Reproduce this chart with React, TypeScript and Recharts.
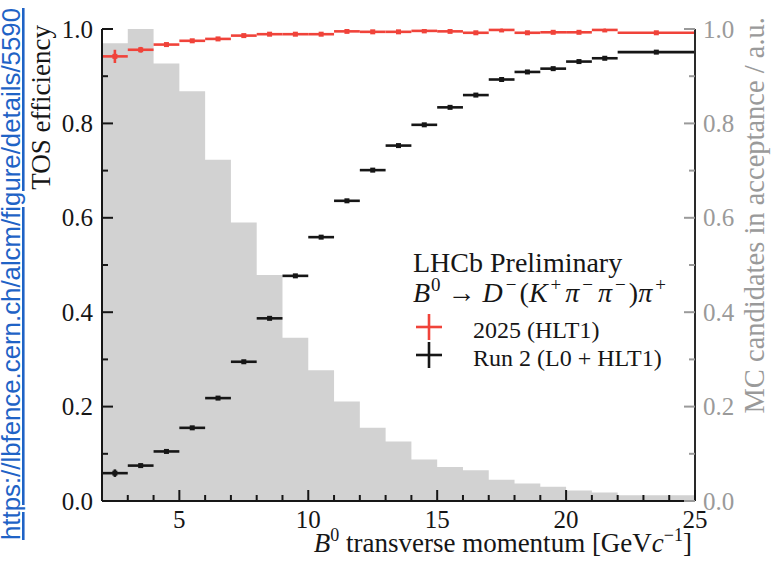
import React from 'react';
import { ComposedChart, Area, Scatter, ErrorBar, XAxis, YAxis, Legend, Label } from 'recharts';

const SERIF = '"Liberation Serif", "DejaVu Serif", serif';
const SANS = '"Liberation Sans", Arial, sans-serif';

// Bin edges of the B0 pT binning [GeV/c]
const binEdges = [2, 3, 4, 5, 6, 7, 8, 9, 10, 11, 12, 13, 14, 15, 16, 17, 18, 19, 20, 21, 22, 25];
// MC candidates in acceptance (a.u.), one per bin
const mcCandidates = [0.970, 1.000, 0.927, 0.868, 0.723, 0.590, 0.479, 0.346, 0.277, 0.211, 0.155, 0.126, 0.088, 0.072, 0.065, 0.045, 0.037, 0.030, 0.022, 0.018, 0.012];
// 2025 (HLT1) TOS efficiency
const eff2025 = [0.942, 0.956, 0.967, 0.975, 0.979, 0.986, 0.989, 0.989, 0.989, 0.995, 0.994, 0.994, 0.996, 0.995, 0.992, 0.998, 0.992, 0.993, 0.993, 0.998, 0.992];
const eff2025Err = [0.014, 0.006, 0.004, 0.003, 0.003, 0.003, 0.003, 0.003, 0.003, 0.003, 0.003, 0.003, 0.003, 0.003, 0.003, 0.003, 0.003, 0.003, 0.003, 0.003, 0.003];
// Run 2 (L0 + HLT1) TOS efficiency
const effRun2 = [0.059, 0.075, 0.105, 0.155, 0.218, 0.295, 0.387, 0.477, 0.559, 0.636, 0.701, 0.753, 0.797, 0.834, 0.860, 0.893, 0.909, 0.916, 0.931, 0.938, 0.951];
const effRun2Err = [0.008, 0.004, 0.003, 0.003, 0.003, 0.003, 0.003, 0.003, 0.003, 0.003, 0.003, 0.003, 0.003, 0.003, 0.003, 0.003, 0.003, 0.003, 0.003, 0.003, 0.003];

const xTicks = [3, 4, 5, 6, 7, 8, 9, 10, 11, 12, 13, 14, 15, 16, 17, 18, 19, 20, 21, 22, 23, 24, 25];
const xTickLabels = [5, 10, 15, 20, 25];
const yTicks = [0, 0.1, 0.2, 0.3, 0.4, 0.5, 0.6, 0.7, 0.8, 0.9, 1.0];
const yTickLabels = [0, 0.2, 0.4, 0.6, 0.8, 1.0];

const RED = '#f0433a';
const BLACK = '#161616';
const GREY_FILL = '#d2d2d2';
const GREY_TEXT = '#9a9a9a';

const histData = binEdges.map((e, i) => ({ x: e, mc: mcCandidates[Math.min(i, mcCandidates.length - 1)] }));
const makePoints = (vals: number[], errs: number[]) =>
  vals.map((v, i) => ({
    x: (binEdges[i] + binEdges[i + 1]) / 2,
    y: v,
    ex: (binEdges[i + 1] - binEdges[i]) / 2,
    ey: errs[i],
  }));
const pts2025 = makePoints(eff2025, eff2025Err);
const ptsRun2 = makePoints(effRun2, effRun2Err);

const isLabel = (v: number, list: number[]) => list.some((l) => Math.abs(l - v) < 1e-6);

const XTickBottom = (props: any) => {
  const { x, y, payload } = props;
  const v = payload.value;
  const major = isLabel(v, xTickLabels);
  return (
    <g>
      <line x1={x} x2={x} y1={y} y2={y - (major ? 11 : 6)} stroke={BLACK} strokeWidth={2} />
      {major && (
        <text x={x} y={y + 27} textAnchor="middle" fontSize={25} fontFamily={SERIF} fill={BLACK}>
          {v}
        </text>
      )}
    </g>
  );
};

const XTickTop = (props: any) => {
  const { x, y, payload } = props;
  const major = isLabel(payload.value, xTickLabels);
  return <line x1={x} x2={x} y1={y} y2={y + (major ? 11 : 6)} stroke={BLACK} strokeWidth={2} />;
};

const YTickLeft = (props: any) => {
  const { x, y, payload } = props;
  const v = payload.value;
  const major = isLabel(v, yTickLabels);
  return (
    <g>
      <line x1={x} x2={x + (major ? 11 : 6)} y1={y} y2={y} stroke={BLACK} strokeWidth={2} />
      {major && (
        <text x={x - 9} y={y + 8.5} textAnchor="end" fontSize={25} fontFamily={SERIF} fill={BLACK}>
          {v.toFixed(1)}
        </text>
      )}
    </g>
  );
};

const YTickRight = (props: any) => {
  const { x, y, payload } = props;
  const v = payload.value;
  const major = isLabel(v, yTickLabels);
  return (
    <g>
      <line x1={x} x2={x - (major ? 11 : 6)} y1={y} y2={y} stroke={GREY_TEXT} strokeWidth={2} />
      {major && (
        <text x={x + 8} y={y + 8.5} textAnchor="start" fontSize={25} fontFamily={SERIF} fill={GREY_TEXT}>
          {v.toFixed(1)}
        </text>
      )}
    </g>
  );
};

const Marker = (color: string) => (p: any) => (
  <rect x={p.cx - 2.5} y={p.cy - 2.5} width={5} height={5} fill={color} />
);

const LeftLabel = (props: any) => {
  const vb = props.viewBox || { x: 0, y: 29 };
  const x = vb.x + 50;
  const y = vb.y - 4;
  return (
    <text x={x} y={y} transform={`rotate(-90 ${x} ${y})`} textAnchor="end" fontSize={27} fontFamily={SERIF} fill={BLACK}>
      TOS efficiency
    </text>
  );
};

const RightLabel = (props: any) => {
  const vb = props.viewBox || { x: 695, y: 29 };
  const x = vb.x + 69;
  const y = vb.y - 12;
  return (
    <text x={x} y={y} transform={`rotate(-90 ${x} ${y})`} textAnchor="end" fontSize={28.5} fontFamily={SERIF} fill={GREY_TEXT}>
      MC candidates in acceptance / a.u.
    </text>
  );
};

const BottomLabel = (props: any) => {
  const vb = props.viewBox || { x: 102, y: 501, width: 593 };
  const x = vb.x + vb.width - 3;
  const y = vb.y + 51;
  return (
    <text x={x} y={y} textAnchor="end" fontSize={27} fontFamily={SERIF} fill={BLACK}>
      <tspan fontStyle="italic">B</tspan>
      <tspan fontSize={18} dy={-11}>0</tspan>
      <tspan dy={11}> transverse momentum [GeV</tspan>
      <tspan fontStyle="italic">c</tspan>
      <tspan fontSize={18} dy={-11}>−1</tspan>
      <tspan dy={11}>]</tspan>
    </text>
  );
};

const LegendOverlay = () => (
  <svg width={771} height={571} style={{ position: 'absolute', left: 0, top: 0 }}>
    <text x={413} y={272} fontSize={28} fontFamily={SERIF} fill={BLACK}>LHCb Preliminary</text>
    <text x={413} y={302} fontSize={28} fontFamily={SERIF} fill={BLACK}>
      <tspan fontStyle="italic">B</tspan>
      <tspan fontSize={19} dy={-11} dx={1}>0</tspan>
      <tspan dy={11} dx={7}>→</tspan>
      <tspan fontStyle="italic" dx={7}>D</tspan>
      <tspan fontSize={19} dy={-11} dx={3}>−</tspan>
      <tspan dy={11} dx={3}>(</tspan>
      <tspan fontStyle="italic">K</tspan>
      <tspan fontSize={19} dy={-11} dx={3}>+</tspan>
      <tspan dy={11} dx={4} fontStyle="italic">π</tspan>
      <tspan fontSize={19} dy={-11} dx={3}>−</tspan>
      <tspan dy={11} dx={5} fontStyle="italic">π</tspan>
      <tspan fontSize={19} dy={-11} dx={3}>−</tspan>
      <tspan dy={11} dx={3}>)</tspan>
      <tspan fontStyle="italic">π</tspan>
      <tspan fontSize={19} dy={-11} dx={3}>+</tspan>
    </text>
    <line x1={416} x2={442} y1={327} y2={327} stroke={RED} strokeWidth={2.6} />
    <line x1={429} x2={429} y1={314} y2={340} stroke={RED} strokeWidth={2.6} />
    <text x={473} y={338} fontSize={24} fontFamily={SERIF} fill={BLACK}>2025 (HLT1)</text>
    <line x1={416} x2={442} y1={355} y2={355} stroke={BLACK} strokeWidth={2.6} />
    <line x1={429} x2={429} y1={342} y2={368} stroke={BLACK} strokeWidth={2.6} />
    <text x={473} y={366} fontSize={24} fontFamily={SERIF} fill={BLACK}>Run 2 (L0 + HLT1)</text>
  </svg>
);

export default function App() {
  return (
    <div style={{ position: 'absolute', left: 0, top: 0, width: 771, height: 571, background: '#fff' }}>
      <svg width={30} height={571} style={{ position: 'absolute', left: 0, top: 0, zIndex: 2 }}>
        <text
          x={20}
          y={8}
          transform="rotate(-90 20 8)"
          textAnchor="end"
          fontSize={25.8}
          fontFamily={SANS}
          fill="#1f63c6"
          style={{ textDecoration: 'underline' }}
        >
          https://lbfence.cern.ch/alcm/figure/details/5590
        </text>
      </svg>
      <ComposedChart
        width={771}
        height={571}
        data={histData}
        margin={{ top: 29, right: 0, bottom: 0, left: 0 }}
      >
        <XAxis
          xAxisId={0}
          dataKey="x"
          type="number"
          domain={[2, 25]}
          allowDataOverflow
          ticks={xTicks}
          interval={0}
          height={70}
          tickSize={0}
          tickMargin={0}
          tickLine={false}
          tick={<XTickBottom />}
          axisLine={{ stroke: BLACK, strokeWidth: 2 }}
        >
          <Label content={<BottomLabel />} />
        </XAxis>
        <XAxis
          xAxisId="top"
          orientation="top"
          type="number"
          domain={[2, 25]}
          allowDataOverflow
          ticks={xTicks}
          interval={0}
          height={0}
          tickSize={0}
          tickMargin={0}
          tickLine={false}
          tick={<XTickTop />}
          axisLine={{ stroke: BLACK, strokeWidth: 2 }}
        />
        <YAxis
          yAxisId="left"
          dataKey="y"
          type="number"
          domain={[0, 1]}
          allowDataOverflow
          ticks={yTicks}
          interval={0}
          width={102}
          tickSize={0}
          tickMargin={0}
          tickLine={false}
          tick={<YTickLeft />}
          axisLine={{ stroke: BLACK, strokeWidth: 2 }}
        >
          <Label content={<LeftLabel />} />
        </YAxis>
        <YAxis
          yAxisId="right"
          orientation="right"
          type="number"
          domain={[0, 1]}
          allowDataOverflow
          ticks={yTicks}
          interval={0}
          width={76}
          tickSize={0}
          tickMargin={0}
          tickLine={false}
          tick={<YTickRight />}
          axisLine={{ stroke: '#2a2a2a', strokeWidth: 2 }}
        >
          <Label content={<RightLabel />} />
        </YAxis>
        <Area
          yAxisId="right"
          dataKey="mc"
          type="stepAfter"
          stroke="none"
          fill={GREY_FILL}
          fillOpacity={1}
          dot={false}
          activeDot={false}
          isAnimationActive={false}
          name="MC candidates"
        />
        <Scatter
          yAxisId="left"
          data={ptsRun2}
          dataKey="y"
          name="Run 2 (L0 + HLT1)"
          fill={BLACK}
          shape={Marker(BLACK)}
          isAnimationActive={false}
        >
          <ErrorBar dataKey="ex" direction="x" width={0} stroke={BLACK} strokeWidth={2.6} />
          <ErrorBar dataKey="ey" direction="y" width={0} stroke={BLACK} strokeWidth={2.6} />
        </Scatter>
        <Scatter
          yAxisId="left"
          data={pts2025}
          dataKey="y"
          name="2025 (HLT1)"
          fill={RED}
          shape={Marker(RED)}
          isAnimationActive={false}
        >
          <ErrorBar dataKey="ex" direction="x" width={0} stroke={RED} strokeWidth={2.6} />
          <ErrorBar dataKey="ey" direction="y" width={0} stroke={RED} strokeWidth={2.6} />
        </Scatter>
        <Legend
          layout="vertical"
          align="center"
          verticalAlign="middle"
          wrapperStyle={{ left: 0, top: 0, width: 771, height: 571, pointerEvents: 'none' }}
          content={<LegendOverlay />}
        />
      </ComposedChart>
    </div>
  );
}
